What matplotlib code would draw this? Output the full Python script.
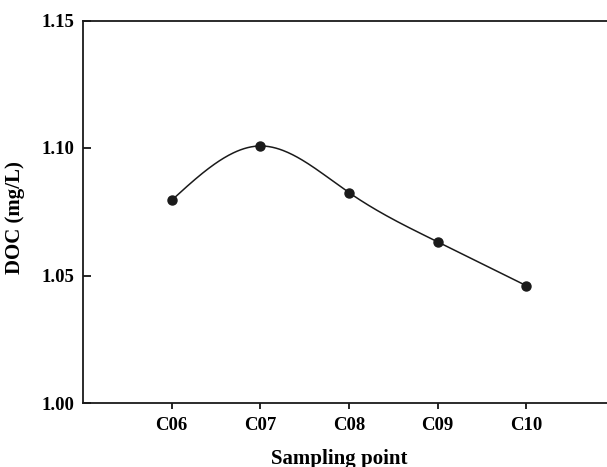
import numpy as np
import matplotlib
matplotlib.use("Agg")
import matplotlib.pyplot as plt

POINTS = ["C06", "C07", "C08", "C09", "C10"]
DOC    = [1.0795, 1.1008, 1.0825, 1.0632, 1.0460]

def natural_spline(x, y, xs):
    # plain natural cubic spline, just to draw the smooth line through the points
    x = np.asarray(x, float); y = np.asarray(y, float)
    n = len(x); h = np.diff(x)
    A = np.zeros((n, n)); b = np.zeros(n)
    A[0, 0] = A[-1, -1] = 1
    for i in range(1, n - 1):
        A[i, i-1] = h[i-1]; A[i, i] = 2 * (h[i-1] + h[i]); A[i, i+1] = h[i]
        b[i] = 3 * ((y[i+1] - y[i]) / h[i] - (y[i] - y[i-1]) / h[i-1])
    c = np.linalg.solve(A, b)
    idx = np.clip(np.searchsorted(x, xs) - 1, 0, n - 2)
    dx = xs - x[idx]
    bb = (y[idx+1] - y[idx]) / h[idx] - h[idx] * (2 * c[idx] + c[idx+1]) / 3
    d = (c[idx+1] - c[idx]) / (3 * h[idx])
    return y[idx] + bb * dx + c[idx] * dx**2 + d * dx**3

plt.rcParams["font.family"] = ["Liberation Serif", "DejaVu Serif"]
plt.rcParams["font.weight"] = "bold"

fig = plt.figure(figsize=(6.07, 4.67), dpi=100)
ax = fig.add_axes([83/607, (467-403)/467, 532/607, (403-20.5)/467])

xpos = np.arange(1, len(POINTS) + 1)
xs = np.linspace(1, len(POINTS), 300)
ax.plot(xs, natural_spline(xpos, DOC, xs), color="#1a1a1a", lw=1.1)
ax.plot(xpos, DOC, "o", color="#1a1a1a", ms=6.5)

ax.set_xlim(0, 6)
ax.set_ylim(1.00, 1.15)
ax.set_xticks(xpos)
ax.set_xticklabels(POINTS)
ax.set_yticks([1.00, 1.05, 1.10, 1.15])
ax.set_yticklabels(["1.00", "1.05", "1.10", "1.15"])
ax.spines["right"].set_visible(False)
for s in ["left", "bottom", "top"]:
    ax.spines[s].set_linewidth(1.3)
    ax.spines[s].set_color("#1a1a1a")
ax.tick_params(axis="y", direction="in", length=6, width=1.2, labelsize=13.5, pad=6)
ax.tick_params(axis="x", direction="out", length=4, width=1.2, labelsize=13.5, pad=6)
ax.set_xlabel("Sampling point", fontsize=15, fontweight="bold", va="center")
ax.set_ylabel("DOC (mg/L)", fontsize=15, fontweight="bold", va="center")
ax.xaxis.set_label_coords((339-83)/532, (403-459)/382.5)
ax.yaxis.set_label_coords((15-83)/532, (403-218)/382.5)

fig.savefig("out.png", dpi=100)
